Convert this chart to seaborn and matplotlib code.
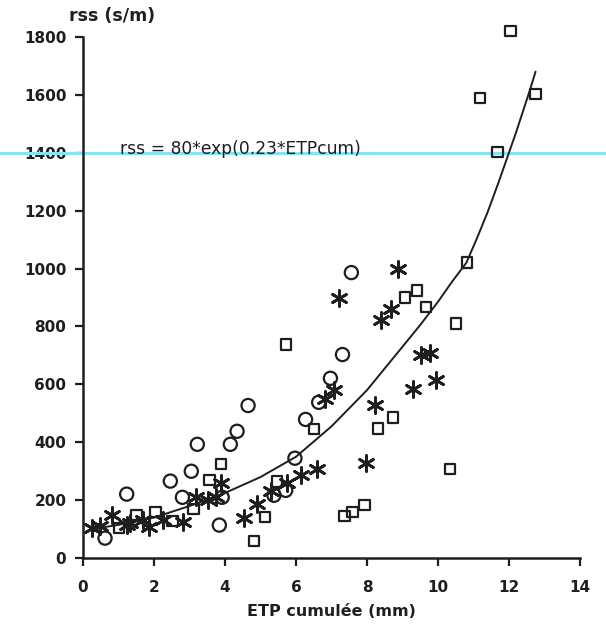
import matplotlib
matplotlib.use("Agg")
import matplotlib.pyplot as plt
import seaborn as sns

# ─── Data ─────────────────────────────────────────────────────────────────────
sq_x = [12.04, 11.18, 11.68, 12.75, 10.81, 10.50, 9.41, 9.07, 9.66, 8.74, 8.32,
        10.34, 7.93, 7.59, 7.37, 5.71, 6.50, 3.89, 3.56, 5.46, 3.11, 5.13, 4.82,
        2.04, 1.51, 2.52, 1.01]
sq_y = [1821, 1590, 1403, 1603, 1021, 810, 924, 900, 866, 486, 448,
        307, 183, 159, 145, 738, 445, 324, 269, 265, 169, 141, 59,
        159, 148, 128, 103]

ci_x = [7.56, 7.31, 6.97, 6.64, 6.27, 5.97, 5.71, 5.38, 4.65, 4.34, 4.15, 3.22,
        3.05, 2.46, 2.80, 1.23, 3.92, 3.84, 0.62]
ci_y = [986, 703, 621, 538, 479, 345, 234, 217, 527, 438, 393, 393,
        300, 266, 210, 221, 210, 114, 69]

st_x = [8.88, 7.20, 8.68, 8.40, 9.78, 9.52, 9.94, 9.30, 8.24, 7.96, 7.06, 6.83,
        6.58, 6.13, 5.74, 5.29, 4.90, 4.54, 3.89, 3.75, 3.53, 3.17, 2.83, 2.24,
        1.85, 1.68, 1.32, 0.81, 0.48, 0.25, 1.23]
st_y = [1000, 900, 862, 824, 710, 700, 614, 583, 528, 328, 579, 548,
        307, 286, 259, 231, 186, 138, 259, 210, 200, 210, 124, 131,
        107, 131, 121, 148, 110, 103, 114]

# fitted curve as drawn on the figure
fit_x = [0.25, 1.0, 2.0, 3.0, 4.0, 5.0, 6.0, 7.0, 8.0, 9.0, 9.5, 10.0, 10.4,
         10.8, 11.1, 11.4, 11.7, 12.0, 12.2, 12.4, 12.6, 12.75]
fit_y = [100, 115, 140, 180, 225, 280, 350, 455, 580, 730, 805, 885, 955,
         1020, 1105, 1195, 1295, 1400, 1470, 1545, 1620, 1680]

x_ticks = [0, 2, 4, 6, 8, 10, 12, 14]
y_ticks = [0, 200, 400, 600, 800, 1000, 1200, 1400, 1600, 1800]

INK  = "#1e1e1e"
CYAN = "#86e4f2"

sns.set_style("ticks")
plt.rcParams["font.family"] = ["DejaVu Sans"]

fig = plt.figure(figsize=(6.06, 6.25), dpi=100)
fig.patch.set_facecolor("white")
ax = fig.add_axes([0.137, 0.107, 0.82, 0.834])

sns.lineplot(x=fit_x, y=fit_y, color=INK, linewidth=1.4, ax=ax, zorder=3)

sns.scatterplot(x=sq_x, y=sq_y, marker="s", s=55, facecolor="none",
                edgecolor=INK, linewidth=1.6, ax=ax, zorder=4, clip_on=False)
sns.scatterplot(x=ci_x, y=ci_y, marker="o", s=90, facecolor="none",
                edgecolor=INK, linewidth=1.6, ax=ax, zorder=4, clip_on=False)
sns.scatterplot(x=st_x, y=st_y, marker=(6, 2, 0), s=130, color=INK,
                linewidth=2.0, ax=ax, zorder=4, clip_on=False)

# cyan line runs across the whole page
ax.axhline(1400, xmin=-0.17, xmax=1.06, color=CYAN, linewidth=2.2,
           clip_on=False, zorder=2)
ax.text(1.05, 1396, "rss = 80*exp(0.23*ETPcum)", fontsize=12.3, color=INK,
        ha="left", va="baseline", zorder=5)

ax.set_xlim(0, 14)
ax.set_ylim(0, 1800)
ax.set_xticks(x_ticks)
ax.set_yticks(y_ticks)
ax.tick_params(axis="both", direction="out", length=6, width=1.6,
               colors=INK, labelsize=11, pad=6)
for lab in ax.get_xticklabels() + ax.get_yticklabels():
    lab.set_fontweight("bold")
ax.tick_params(axis="x", pad=10)

for side in ["top", "right"]:
    ax.spines[side].set_visible(False)
for side in ["left", "bottom"]:
    ax.spines[side].set_linewidth(1.8)
    ax.spines[side].set_color(INK)

ax.set_xlabel("ETP cumulée (mm)", fontsize=11.5, fontweight="bold", color=INK,
              labelpad=6)
ax.set_ylabel("")
fig.text(0.114, 0.975, "rss (s/m)", fontsize=12.5, fontweight="bold", color=INK,
         ha="left", va="center")

fig.savefig("out.png", dpi=100, facecolor="white")
